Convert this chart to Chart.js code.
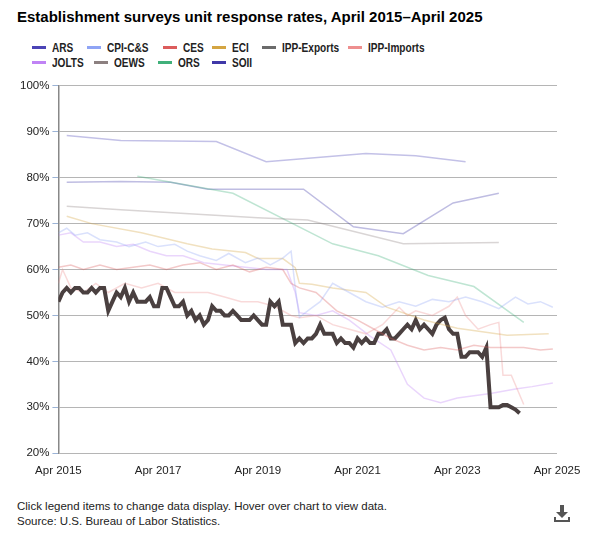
<!DOCTYPE html>
<html>
<head>
<meta charset="utf-8">
<script src="https://cdn.jsdelivr.net/npm/chart.js@4"></script>
<style>
  body { margin: 0; background: #fff; font-family: "Liberation Sans", Arial, sans-serif; }
  #title { position: absolute; left: 17px; top: 8px; font-size: 15px; font-weight: bold; color: #000; }
  #legend { position: absolute; left: 0; top: 41px; width: 589px; height: 32px;
    font-family: "Liberation Sans", Arial, sans-serif; font-size: 12px; font-weight: bold; color: #222; }
  .item { position: absolute; cursor: pointer; white-space: nowrap; }
  .item i { display: inline-block; width: 14px; height: 3px; vertical-align: middle; margin-right: 6px; margin-top: -2px; }
  .item span { display: inline-block; transform: scaleX(0.84); transform-origin: left center; }
  #wrap { position: absolute; left: 0; top: 76px; width: 589px; height: 405px; }
  #foot { position: absolute; left: 17px; top: 499px; font-size: 11.5px; color: #222; line-height: 15px; }
  #dl { position: absolute; left: 553px; top: 504px; }
</style>
</head>
<body>
<div id="title">Establishment surveys unit response rates, April 2015–April 2025</div>
<div id="legend"></div>
<div id="wrap"><canvas id="c"></canvas></div>
<div id="foot">Click legend items to change data display. Hover over chart to view data.<br>Source: U.S. Bureau of Labor Statistics.</div>
<svg id="dl" width="18" height="20" viewBox="0 0 18 20">
  <rect x="7" y="1" width="4" height="8" fill="#555"/>
  <polygon points="3,8 15,8 9,14" fill="#555"/>
  <rect x="1" y="13" width="2" height="5" fill="#555"/>
  <rect x="15" y="13" width="2" height="5" fill="#555"/>
  <rect x="1" y="16" width="16" height="2" fill="#555"/>
</svg>
<script>
// x values are months since April 2015
const tickLabels = ["Apr 2015", "Apr 2017", "Apr 2019", "Apr 2021", "Apr 2023", "Apr 2025"];

const arsMonths = [2, 15, 38, 50, 74, 86, 98];
const arsValues = [89.2, 88.1, 87.9, 83.5, 85.3, 84.8, 83.5];

const soiiMonths = [2, 15, 27, 36, 59, 71, 83, 95, 106];
const soiiValues = [79, 79.2, 79, 77.5, 77.5, 69.3, 67.8, 74.5, 76.6];

const orsMonths = [19, 42, 66, 77, 89, 100, 112];
const orsValues = [80.3, 76.6, 65.6, 63, 58.7, 56.3, 48.5];

const oewsMonths = [2, 15, 48, 60, 83, 106];
const oewsValues = [73.8, 73, 71.3, 70.8, 65.6, 65.9];

const eciMonths = [2, 8, 20, 31, 37, 45, 48, 54, 57, 58, 61, 66, 74, 79, 88, 96, 108, 118];
const eciValues = [71.6, 70, 68, 65.6, 64.5, 63.7, 62.4, 62.4, 60.4, 57, 56.8, 56, 55, 51.8, 49, 47.2, 45.7, 46];

const cpiMonths = [0, 2, 4, 7, 10, 14, 17, 21, 24, 28, 31, 34, 38, 41, 45, 48, 51, 54, 56, 57, 58, 60, 63, 66, 70, 74, 78, 82, 86, 90, 94, 98, 102, 106, 110, 113, 116, 119];
const cpiValues = [68, 69, 67.5, 68, 66.5, 66, 65, 66, 65, 65.5, 64, 63, 62, 63.5, 61.5, 62.5, 61, 62.5, 64, 56, 49.6, 51, 53, 57, 55, 53, 51.8, 53, 52, 53.5, 53, 54, 53, 51.5, 54, 52.5, 53, 51.8];

const joltsMonths = [0, 3, 6, 10, 14, 18, 22, 26, 30, 35, 40, 45, 50, 55, 57, 58, 62, 66, 70, 75, 80, 84, 88, 92, 96, 100, 104, 107, 110, 114, 119];
const joltsValues = [67.5, 68, 66, 66, 65, 65.5, 64, 63, 63, 61.5, 61, 60.5, 60, 60, 55, 50.6, 50, 51, 49, 45.5, 42.5, 35, 32, 31, 32, 32.5, 33, 33.5, 34, 34.5, 35.3];

const cesMonths = [0, 3, 6, 10, 14, 18, 22, 26, 30, 34, 38, 42, 46, 50, 54, 56, 58, 62, 67, 72, 76, 80, 84, 88, 92, 96, 100, 104, 108, 112, 116, 119];
const cesValues = [60.5, 61, 60, 61, 60, 60.5, 61, 60, 61, 61.5, 60, 61, 59.5, 60.5, 60, 57, 56, 55, 51, 49, 47, 45, 43.5, 42.5, 43, 42.5, 43.5, 43, 43, 43, 42.5, 42.7];

const impMonths = [0, 1, 3, 6, 9, 12, 16, 20, 24, 28, 32, 36, 40, 44, 48, 52, 56, 58, 62, 66, 70, 74, 78, 82, 84, 86, 90, 94, 96, 98, 101, 104, 106, 107, 109, 112];
const impValues = [57, 60, 56, 55, 57, 55, 57, 56, 57, 55, 55, 55, 54, 53, 53, 52, 50, 49.5, 50, 48, 47, 46, 48, 51.8, 50, 51, 50, 52, 54, 50, 47, 48, 48.5, 37, 37, 30.6];

const exportsValues = [
  53, 55, 56, 55, 56, 56, 55, 55, 56, 55, 56, 56, 51,
  53, 55, 54, 56, 53, 55, 53, 53, 53, 54, 52, 52,
  56, 56, 54, 52, 52, 53, 50, 51, 49, 50, 48, 49,
  52, 51, 51, 50, 50, 51, 50, 49, 49, 49, 50, 49,
  48, 48, 53, 52, 53,
  48, 48, 48, 44, 45, 44, 45, 45, 46, 48, 46, 46, 46, 44, 45, 44, 44, 43, 45, 44,
  45, 44, 44, 46, 46, 47, 45, 45, 46, 47, 48, 47, 49, 47, 48, 47, 46, 48, 49, 49.5,
  47, 46, 46, 41, 41, 42, 42, 42, 41, 43, 30, 30, 30, 30.5, 30.5, 30, 29.5, 28.7
];

// legend slots [left, top]
const legendPos = [[32, 0], [87, 0], [163, 0], [212, 0], [262, 0], [348, 0], [32, 15], [94, 15], [158, 15], [212, 15]];

function pts(months, values) {
  return values.map((v, i) => ({ x: months[i], y: v }));
}

function faded(label, color, months, values) {
  return {
    label: label,
    data: pts(months, values),
    borderColor: color + "55",
    backgroundColor: color,
    borderWidth: 1.5,
    pointRadius: 0,
    tension: 0
  };
}

const chart = new Chart(document.getElementById("c"), {
  type: "line",
  data: {
    datasets: [
      faded("ARS", "#4b44b6", arsMonths, arsValues),
      faded("CPI-C&S", "#8fa4f5", cpiMonths, cpiValues),
      faded("CES", "#dc5c5c", cesMonths, cesValues),
      faded("ECI", "#d4a542", eciMonths, eciValues),
      {
        label: "IPP-Exports",
        data: exportsValues.map((v, i) => ({ x: i, y: v })),
        borderColor: "#4a4040",
        backgroundColor: "#6b6b6b",
        borderWidth: 4,
        pointRadius: 0,
        tension: 0
      },
      faded("IPP-Imports", "#ee8f8f", impMonths, impValues),
      faded("JOLTS", "#c083f5", joltsMonths, joltsValues),
      faded("OEWS", "#8c8080", oewsMonths, oewsValues),
      faded("ORS", "#40b07a", orsMonths, orsValues),
      faded("SOII", "#4038a8", soiiMonths, soiiValues)
    ]
  },
  options: {
    responsive: true,
    maintainAspectRatio: false,
    animation: false,
    layout: { padding: { left: 17, right: 32, top: 6, bottom: 0 } },
    plugins: {
      tooltip: { enabled: false },
      legend: { display: false }
    },
    scales: {
      x: {
        type: "linear",
        min: 0,
        max: 120,
        ticks: {
          stepSize: 24,
          color: "#222",
          font: { family: "Liberation Sans", size: 11.5 },
          maxRotation: 0,
          callback: v => tickLabels[v / 24]
        },
        grid: { display: false },
        border: { display: false }
      },
      y: {
        min: 20,
        max: 100,
        ticks: {
          stepSize: 10,
          color: "#222",
          font: { family: "Liberation Sans", size: 11.5 },
          callback: v => v + "%"
        },
        grid: {
          color: "#b5b5b5",
          tickColor: "#9bb3d6",
          tickLength: 6,
          tickBorderDash: [],
          borderDash: [1.5, 4]
        },
        border: { display: true, color: "#888", width: 1.5 }
      }
    }
  }
});

const legendEl = document.getElementById("legend");
chart.data.datasets.forEach((d, i) => {
  const el = document.createElement("div");
  el.className = "item";
  el.style.left = legendPos[i][0] + "px";
  el.style.top = legendPos[i][1] + "px";
  el.innerHTML = `<i style="background:${d.backgroundColor}"></i><span>${d.label}</span>`;
  el.onclick = () => {
    chart.setDatasetVisibility(i, !chart.isDatasetVisible(i));
    el.style.opacity = chart.isDatasetVisible(i) ? 1 : 0.4;
    chart.update();
  };
  legendEl.appendChild(el);
});
</script>
</body>
</html>
